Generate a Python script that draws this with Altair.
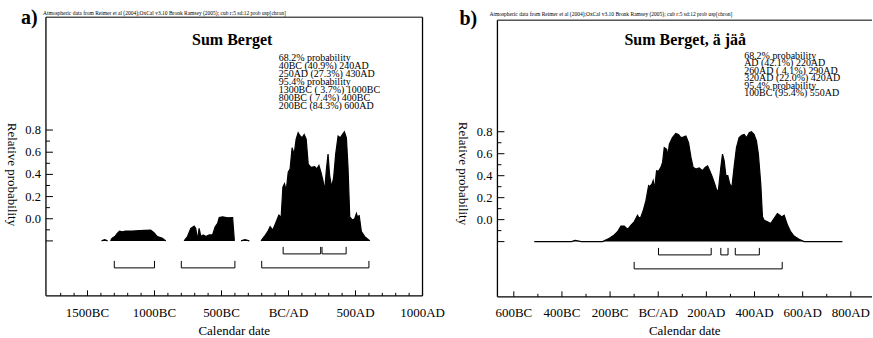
import altair as alt
import pandas as pd

FONT = "Liberation Serif"
NB = "\u00a0"

# ---------------- data: panel a (Sum Berget) ----------------
a_blip1_years = [-1395, -1372, -1350]
a_blip1_prob = [0, 0.012, 0]
a_c1_years = [-1328, -1316, -1296, -1278, -1261, -1241, -1216, -1166, -1116, -1066, -1029, -1004, -979, -961, -941, -916]
a_c1_prob = [0, 0.024, 0.039, 0.068, 0.089, 0.083, 0.089, 0.089, 0.092, 0.095, 0.098, 0.074, 0.039, 0.033, 0.024, 0]
a_c2_years = [-779, -754, -729, -704, -692, -679, -667, -654, -637, -617, -592, -567, -547, -529, -517, -492, -454, -417, -404]
a_c2_prob = [0, 0.039, 0.113, 0.134, 0.113, 0.009, 0.113, 0.039, 0.054, 0.039, 0.054, 0.054, 0.128, 0.158, 0.211, 0.217, 0.208, 0.211, 0]
a_blip2_years = [-354, -325, -292]
a_blip2_prob = [0, 0.012, 0]
a_c3_years = [-205, -180, -155, -137, -117, -97, -72, -55, -42, -30, -17, -2, 12, 27, 42, 57, 72, 87, 102, 117, 132,
              147, 167, 195, 212, 227, 242, 257, 270, 282, 295, 307, 322, 337, 352, 370, 387, 402, 417, 432, 444,
              457, 477, 494, 507, 519, 527, 544, 569, 607]
a_c3_prob = [0, 0.04, 0.083, 0.128, 0.098, 0.158, 0.232, 0.211, 0.485, 0.515, 0.455, 0.62, 0.65, 0.84, 0.78, 0.917,
             0.976, 0.946, 0.93, 0.96, 0.917, 0.693, 0.664, 0.67, 0.65, 0.68, 0.62, 0.545, 0.455, 0.634, 0.783,
             0.59, 0.485, 0.574, 0.783, 0.946, 0.93, 0.96, 0.985, 0.93, 0.664, 0.217, 0.188, 0.2, 0.247, 0.2,
             0.232, 0.083, 0.039, 0]

# ---------------- data: panel b (Sum Berget, ä jäå) ----------------
b_years = [-515, -360, -345, -320, -231, -203, -183, -169, -155, -141, -127, -113, -100, -86, -79, -72, -62, -51,
           -40, -35, -26, -21, -15, -7, 1, 11, 18, 25, 35, 40, 46, 59, 73, 84, 94, 104, 115, 126, 136, 145, 156,
           170, 184, 195, 205, 214, 225, 237, 243, 250, 260, 267, 274, 281, 289, 297, 306, 315, 325, 336, 347,
           357, 367, 378, 387, 398, 408, 416, 426, 433, 440, 454, 467, 481, 495, 505, 513, 523, 537, 550, 564,
           585, 606, 765]
b_prob = [0, 0, 0.012, 0, 0, 0.03, 0.06, 0.09, 0.141, 0.141, 0.111, 0.15, 0.18, 0.24, 0.21, 0.225, 0.285, 0.375,
          0.51, 0.5, 0.525, 0.555, 0.48, 0.645, 0.64, 0.676, 0.72, 0.856, 0.84, 0.78, 0.886, 0.946, 0.985, 0.976,
          0.946, 0.952, 0.961, 0.9, 0.766, 0.676, 0.66, 0.67, 0.646, 0.676, 0.69, 0.646, 0.586, 0.51, 0.465,
          0.47, 0.676, 0.796, 0.736, 0.6, 0.6, 0.525, 0.495, 0.676, 0.856, 0.946, 0.967, 0.976, 0.946, 0.991,
          1.0, 0.976, 0.916, 0.796, 0.525, 0.225, 0.195, 0.18, 0.165, 0.21, 0.255, 0.24, 0.225, 0.24, 0.15,
          0.09, 0.051, 0.021, 0, 0]

# ---------------- ranges (brackets) ----------------
a_r68_start = [-40, 250]
a_r68_end = [240, 430]
a_r95_start = [-1300, -800, -200]
a_r95_end = [-1000, -400, 600]
b_r68_start = [1, 260, 320]
b_r68_end = [220, 290, 420]
b_r95_start = [-100]
b_r95_end = [515]

# ---------------- ticks ----------------
a_x_major = [-1500, -1000, -500, 0, 500, 1000]
a_x_minor = [-1700, -1600, -1400, -1300, -1200, -1100, -900, -800, -700, -600, -400, -300, -200, -100,
             100, 200, 300, 400, 600, 700, 800, 900]
b_x_major = [-600, -400, -200, 0, 200, 400, 600, 800]
b_x_minor = [-500, -300, -100, 100, 300, 500, 700]
y_major = [0, 0.2, 0.4, 0.6, 0.8, 1.0]
y_minor = [0.1, 0.3, 0.5, 0.7, 0.9]
y_label_values = [0.2, 0.4, 0.6, 0.8, 1.0]

# ---------------- texts ----------------
header = "Atmospheric data from Reimer et al (2004);OxCal v3.10 Bronk Ramsey (2005); cub r:5 sd:12 prob usp[chron]"
a_letter = "a)"
b_letter = "b)"
a_title = "Sum Berget"
b_title = "Sum Berget, ä jäå"
a_stats = ["68.2% probability",
           NB + NB + "40BC (40.9%) 240AD",
           NB + NB + "250AD (27.3%) 430AD",
           "95.4% probability",
           NB + NB + "1300BC (" + NB + "3.7%) 1000BC",
           NB + NB + "800BC (" + NB + "7.4%) 400BC",
           NB + NB + "200BC (84.3%) 600AD"]
b_stats = ["68.2% probability",
           NB + NB + "AD (42.1%) 220AD",
           NB + NB + "260AD (" + NB + "4.1%) 290AD",
           NB + NB + "320AD (22.0%) 420AD",
           "95.4% probability",
           NB + NB + "100BC (95.4%) 550AD"]
y_title = "Relative probability"
x_title = "Calendar date"

one = pd.DataFrame({"k": [0]})

X_LABEL_EXPR = "datum.yr < 0 ? (-datum.yr) + 'BC' : (datum.yr == 0 ? 'BC/AD' : datum.yr + 'AD')"
Y_LABEL_EXPR = "format(datum.v - 0.2, '.1f')"


def text_layer(txt, x, y, size, weight="normal", align="left", angle=0, baseline="alphabetic", lh=None):
    kw = dict(align=align, baseline=baseline, font=FONT, fontSize=size, fontWeight=weight,
              color="black", angle=angle)
    if lh is not None:
        kw["lineBreak"] = "\n"
        kw["lineHeight"] = lh
    return alt.Chart(pd.DataFrame({"t": [txt]})).mark_text(**kw).encode(
        text="t:N", x=alt.value(x), y=alt.value(y))


def panel(df, xdom, ydom, width, height, top_off, x_major, x_minor, r68, r95, y68, y95,
          texts, right_border):
    xs = alt.Scale(domain=xdom, nice=False, zero=False)
    ys = alt.Scale(domain=ydom, nice=False, zero=False)
    area = alt.Chart(df).mark_area(color="black", interpolate="linear").encode(
        x=alt.X("yr:Q", scale=xs, axis=None),
        y=alt.Y("p:Q", scale=ys, stack=None, axis=None),
        y2=alt.datum(0),
        detail="seg:N")
    line = alt.Chart(df).mark_line(color="black", strokeWidth=1.2).encode(
        x=alt.X("yr:Q", scale=xs, axis=None),
        y=alt.Y("p:Q", scale=ys, stack=None, axis=None),
        detail="seg:N")
    layers = [area, line]
    # x ticks (inward) and labels
    layers.append(alt.Chart(pd.DataFrame({"yr": x_major})).mark_rule(color="black", strokeWidth=1).encode(
        x=alt.X("yr:Q", scale=xs, axis=None), y=alt.value(height), y2=alt.value(height - 5.5)))
    layers.append(alt.Chart(pd.DataFrame({"yr": x_minor})).mark_rule(color="black", strokeWidth=1).encode(
        x=alt.X("yr:Q", scale=xs, axis=None), y=alt.value(height), y2=alt.value(height - 3)))
    layers.append(alt.Chart(pd.DataFrame({"yr": x_major})).transform_calculate(lab=X_LABEL_EXPR).mark_text(
        font=FONT, fontSize=13, color="black", align="center", baseline="alphabetic").encode(
        x=alt.X("yr:Q", scale=xs, axis=None), y=alt.value(300), text="lab:N"))
    # y ticks (inward) and labels
    layers.append(alt.Chart(pd.DataFrame({"v": y_major})).mark_rule(color="black", strokeWidth=1).encode(
        y=alt.Y("v:Q", scale=ys, axis=None), x=alt.value(0), x2=alt.value(7)))
    layers.append(alt.Chart(pd.DataFrame({"v": y_minor})).mark_rule(color="black", strokeWidth=1).encode(
        y=alt.Y("v:Q", scale=ys, axis=None), x=alt.value(0), x2=alt.value(4)))
    layers.append(alt.Chart(pd.DataFrame({"v": y_label_values})).transform_calculate(lab=Y_LABEL_EXPR).mark_text(
        font=FONT, fontSize=12.5, color="black", align="right", baseline="middle").encode(
        y=alt.Y("v:Q", scale=ys, axis=None), x=alt.value(-5), text="lab:N"))
    # frame
    layers.append(alt.Chart(one).mark_rule(color="black", strokeWidth=1.3).encode(
        x=alt.value(0), y=alt.value(top_off), y2=alt.value(height)))
    layers.append(alt.Chart(one).mark_rule(color="black", strokeWidth=1.3).encode(
        x=alt.value(0), x2=alt.value(width), y=alt.value(height)))
    layers.append(alt.Chart(one).mark_rule(color="black", strokeWidth=1).encode(
        x=alt.value(0), x2=alt.value(width), y=alt.value(top_off)))
    if right_border:
        layers.append(alt.Chart(one).mark_rule(color="black", strokeWidth=1.3).encode(
            x=alt.value(width), y=alt.value(top_off), y2=alt.value(height)))
    # brackets
    for (starts, ends), yy in ((r68, y68), (r95, y95)):
        rdf = pd.DataFrame({"s": starts, "e": ends})
        layers.append(alt.Chart(rdf).mark_rule(color="black", strokeWidth=1).encode(
            x=alt.X("s:Q", scale=xs, axis=None), x2="e:Q", y=alt.value(yy)))
        for col in ("s", "e"):
            layers.append(alt.Chart(rdf).mark_rule(color="black", strokeWidth=1).encode(
                x=alt.X(col + ":Q", scale=xs, axis=None), y=alt.value(yy), y2=alt.value(yy - 7)))
    layers.extend(texts)
    return alt.layer(*layers).properties(width=width, height=height)


def make_df(parts):
    rows = []
    for name, yrs, probs in parts:
        for y, p in zip(yrs, probs):
            rows.append({"yr": y, "p": p, "seg": name})
    return pd.DataFrame(rows)


df_a = make_df([("b1", a_blip1_years, a_blip1_prob), ("c1", a_c1_years, a_c1_prob),
                ("c2", a_c2_years, a_c2_prob), ("b2", a_blip2_years, a_blip2_prob),
                ("c3", a_c3_years, a_c3_prob)])
df_b = make_df([("all", b_years, b_prob)])

A_W, A_H = 377, 279
B_W, B_H = 375, 280

anchor = alt.Chart(one).mark_rect(opacity=0).encode(
    x=alt.value(-46), x2=alt.value(-45), y=alt.value(-17), y2=alt.value(-16))

texts_a = [
    anchor,
    text_layer(header, -3, -2, 5.5),
    text_layer(a_letter, -25, 7, 20, weight="bold"),
    text_layer(a_title, 186.5, 28, 16, weight="bold", align="center"),
    text_layer("\n".join(a_stats), 233, 44, 10, lh=8),
    text_layer(y_title, -34, 157.5, 13, align="center", angle=90, baseline="middle"),
    text_layer(x_title, A_W / 2, 318, 13, align="center"),
]
texts_b = [
    text_layer(header, -8, -1, 5.5),
    text_layer(b_letter, -38, 8, 20, weight="bold"),
    text_layer(b_title, 188, 28, 16, weight="bold", align="center"),
    text_layer("\n".join(b_stats), 247, 41.5, 10, lh=7.5),
    text_layer(y_title, -34, 156.5, 13, align="center", angle=90, baseline="middle"),
    text_layer(x_title, B_W / 2, 318, 13, align="center"),
]

pa = panel(df_a, [-1810, 1000], [-0.4955, 2.018], A_W, A_H, 0, a_x_major, a_x_minor,
           (a_r68_start, a_r68_end), (a_r95_start, a_r95_end), 237, 251, texts_a, True)
pb = panel(df_b, [-668, 888], [-0.503, 2.043], B_W, B_H, 3, b_x_major, b_x_minor,
           (b_r68_start, b_r68_end), (b_r95_start, b_r95_end), 238, 252, texts_b, False)

chart = alt.hconcat(pa, pb, spacing=75, bounds="flush").properties(padding=0).configure_view(stroke=None)

chart.save("out.html", embed_options={"renderer": "svg", "actions": False})
